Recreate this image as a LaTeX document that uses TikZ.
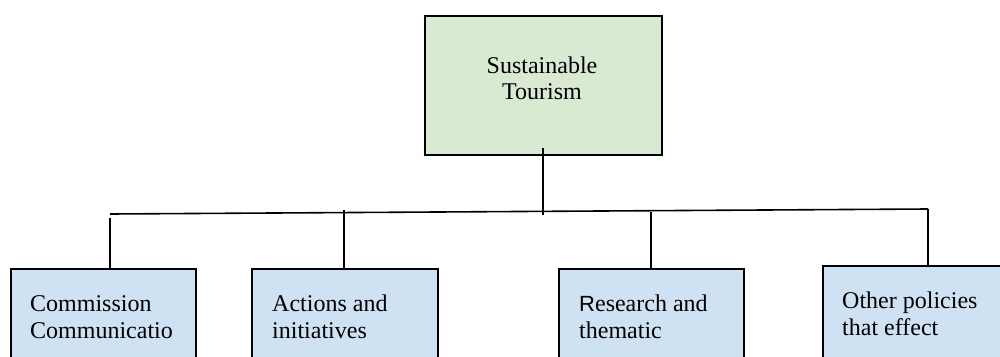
\documentclass[tikz,border=0pt]{standalone}
\usepackage{fontspec}
\setmainfont{Liberation Serif}
\newfontfamily\rsans{Liberation Sans}
\definecolor{topfill}{HTML}{D9EAD3}
\definecolor{childfill}{HTML}{CFE2F3}
\begin{document}
\begin{tikzpicture}[x=1pt,y=-1pt,
  boxstyle/.style={draw=black,line width=1.6pt,rectangle,inner sep=0pt,anchor=north west},
  conn/.style={line width=1.6pt},
  lbl/.style={font=\fontsize{24}{27}\selectfont,inner sep=0pt,anchor=base west}]
\useasboundingbox (0,0) rectangle (1000,356);
\clip (0,0) rectangle (1000,356);
% top box
\node[boxstyle,fill=topfill,minimum width=237pt,minimum height=139pt] (top) at (424,15) {};
\node[lbl,anchor=base] (toptxt) at (542,73) {Sustainable};
\node[lbl,anchor=base] (toptxtb) at (542,99) {Tourism};
% child boxes
\node[boxstyle,fill=childfill,minimum width=185pt,minimum height=120pt] (c1) at (10,268) {};
\node[boxstyle,fill=childfill,minimum width=186pt,minimum height=120pt] (c2) at (251,268) {};
\node[boxstyle,fill=childfill,minimum width=185pt,minimum height=120pt] (c3) at (558,268) {};
\node[boxstyle,fill=childfill,minimum width=200pt,minimum height=120pt] (c4) at (822,265) {};
\node[lbl] (t1) at (30,311) {Commission};
\node[lbl] (t1b) at (30,338) {Communicatio};
\node[lbl] (t2) at (272,311) {Actions and};
\node[lbl] (t2b) at (272,338) {initiatives};
\node[lbl] (t3) at (579,311) {{\rsans\fontsize{22}{27}\selectfont R}esearch and};
\node[lbl] (t3b) at (579,338) {thematic};
\node[lbl] (t4) at (842,308) {Other policies};
\node[lbl] (t4b) at (842,335) {that effect};
% bus
\coordinate (busL) at (110,214);
\coordinate (busR) at (928,209);
\coordinate (bT) at (543,215);
\coordinate (b1) at (110,218);
\coordinate (b2) at (344,210);
\coordinate (b3) at (651,211.5);
\coordinate (b4) at (928,209);
\draw[conn] (busL) -- (busR);
\draw[conn] (543,148) -- (bT);
\draw[conn] (b1) -- (c1.north west -| b1);
\draw[conn] (b2) -- (c2.north west -| b2);
\draw[conn] (b3) -- (c3.north west -| b3);
\draw[conn] (b4) -- (c4.north west -| b4);
\end{tikzpicture}
\end{document}
